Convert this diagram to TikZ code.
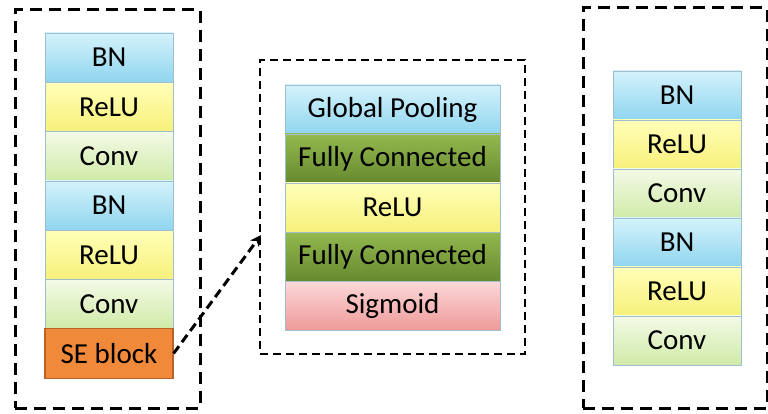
\documentclass[tikz,border=0pt]{standalone}
\usepackage{fontspec}
\setmainfont{Carlito}
\usetikzlibrary{arrows.meta}
\definecolor{bnT}{HTML}{D4F2FB}
\definecolor{bnB}{HTML}{8FD5EF}
\definecolor{reT}{HTML}{FFFFB8}
\definecolor{reB}{HTML}{F7F07A}
\definecolor{coT}{HTML}{F3FAE6}
\definecolor{coB}{HTML}{D0EAA8}
\definecolor{fcT}{HTML}{93B94F}
\definecolor{fcB}{HTML}{67892F}
\definecolor{sgT}{HTML}{FCD8D8}
\definecolor{sgB}{HTML}{EF9A9A}
\definecolor{seF}{HTML}{F08A3A}
\definecolor{seD}{HTML}{B8622A}
\definecolor{cellline}{HTML}{9FBFCF}
\tikzset{
  cell/.style={draw=cellline, line width=0.6pt, inner sep=0pt, minimum height=49.3pt,
    font=\fontsize{29}{32}\selectfont, text=black},
  narrow/.style={cell, minimum width=128pt},
  wide/.style={cell, minimum width=215pt, minimum height=49pt},
  bn/.style={top color=bnT, bottom color=bnB},
  relu/.style={top color=reT, bottom color=reB},
  conv/.style={top color=coT, bottom color=coB},
  fc/.style={top color=fcT, bottom color=fcB},
  sig/.style={top color=sgT, bottom color=sgB},
  se/.style={fill=seF, draw=seD, line width=1.2pt},
  bigbox/.style={draw, line width=3pt, dash pattern=on 12pt off 7pt, inner sep=0pt},
  midbox/.style={draw, line width=2pt, dash pattern=on 8pt off 5pt, inner sep=0pt},
}
\begin{document}
\begin{tikzpicture}[x=1pt,y=-1pt]
\useasboundingbox (0,0) rectangle (768,414);
% outer dashed boxes
\node[bigbox, minimum width=185pt, minimum height=398pt] (lbox) at (107.5,209) {};
\node[midbox, minimum width=265pt, minimum height=294pt] (mbox) at (392.5,207) {};
\node[bigbox, minimum width=184pt, minimum height=400pt] (rbox) at (675,208) {};
% left stack
\node[narrow, bn]   (l1) at (109,57.65) {BN};
\node[narrow, relu] (l2) at (109,106.95) {ReLU};
\node[narrow, conv] (l3) at (109,156.25) {Conv};
\node[narrow, bn]   (l4) at (109,205.55) {BN};
\node[narrow, relu] (l5) at (109,254.85) {ReLU};
\node[narrow, conv] (l6) at (109,304.15) {Conv};
\node[narrow, se]   (l7) at (109,353.45) {SE block};
% middle stack
\node[wide, bn]   (m1) at (392.5,109.5) {Global Pooling};
\node[wide, fc]   (m2) at (392.5,158.5) {Fully Connected};
\node[wide, relu] (m3) at (392.5,207.5) {ReLU};
\node[wide, fc]   (m4) at (392.5,256.5) {Fully Connected};
\node[wide, sig]  (m5) at (392.5,305.5) {Sigmoid};
% right stack
\node[narrow, bn]   (r1) at (677,95.5) {BN};
\node[narrow, relu] (r2) at (677,144.5) {ReLU};
\node[narrow, conv] (r3) at (677,193.5) {Conv};
\node[narrow, bn]   (r4) at (677,242.5) {BN};
\node[narrow, relu] (r5) at (677,291.5) {ReLU};
\node[narrow, conv] (r6) at (677,340.5) {Conv};
% arrow
\coordinate (tip) at (261,235);
\draw[line width=3pt, dash pattern=on 9pt off 5pt, -{Stealth[length=11pt,width=11pt]}] (l7.east) -- (tip);
\end{tikzpicture}
\end{document}
